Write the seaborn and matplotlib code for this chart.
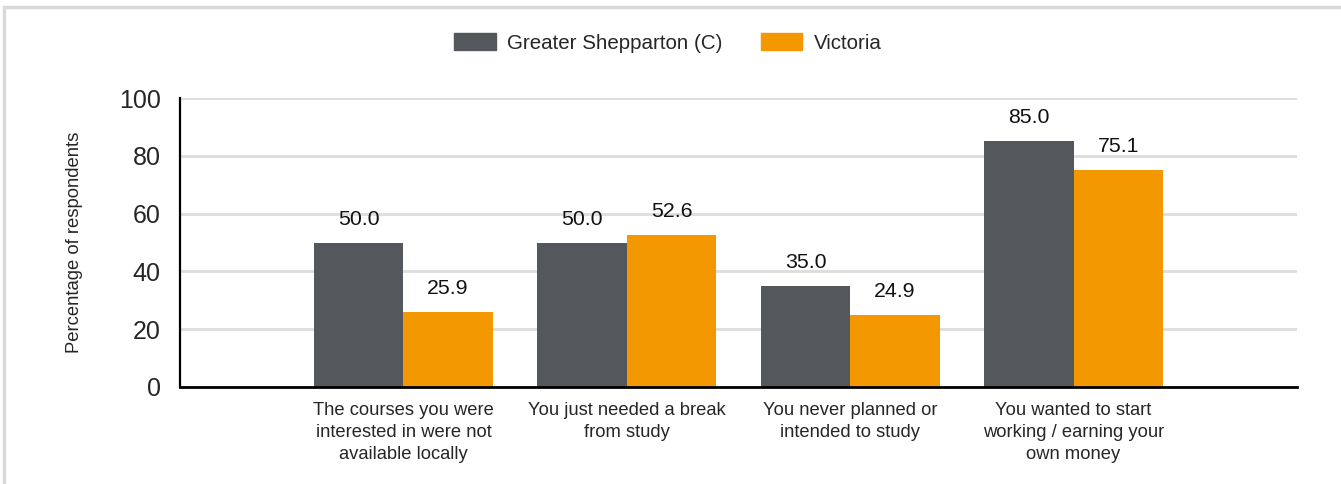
import matplotlib
matplotlib.use("Agg")
import matplotlib.pyplot as plt
import pandas as pd
import seaborn as sns
from matplotlib.patches import Rectangle

# Data
categories = [
    "The courses you were\ninterested in were not\navailable locally",
    "You just needed a break\nfrom study",
    "You never planned or\nintended to study",
    "You wanted to start\nworking / earning your\nown money",
]
series_names = ["Greater Shepparton (C)", "Victoria"]
shepparton = [50.0, 50.0, 35.0, 85.0]
victoria = [25.9, 52.6, 24.9, 75.1]
y_ticks = [0, 20, 40, 60, 80, 100]

colors = ["#54575b", "#f39800"]

df = pd.DataFrame({
    "category": categories * 2,
    "series": [series_names[0]] * len(categories) + [series_names[1]] * len(categories),
    "value": shepparton + victoria,
})

sns.set_style("white")
plt.rcParams["font.family"] = ["Liberation Sans", "DejaVu Sans"]

fig = plt.figure(figsize=(13.41, 4.84), dpi=100)
ax = fig.add_axes([180 / 1341, 1 - 387 / 484, 1117 / 1341, 289 / 484])

sns.barplot(data=df, x="category", y="value", hue="series", order=categories,
            hue_order=series_names, palette=colors, width=0.8, ax=ax,
            legend=False, saturation=1, linewidth=0)

for cont in ax.containers:
    ax.bar_label(cont, fmt="%.1f", padding=10, fontsize=15.3, color="#111111")

# axes styling
ax.set_xlim(-1, 4)
ax.set_ylim(0, 100)
ax.set_yticks(y_ticks)
ax.set_yticklabels([str(t) for t in y_ticks], fontsize=18)
ax.set_xticks([-1, 0, 1, 2, 3, 4])
ax.set_xticklabels([""] + categories + [""], fontsize=13.2)
for lbl in ax.get_xticklabels():
    lbl.set_linespacing(1.38)
ax.tick_params(axis="x", length=4, width=1, color="#555555", pad=7)
ax.tick_params(axis="y", length=10, width=1, color="#777777", pad=4)
ax.yaxis.grid(True, color="#dddddd", linewidth=2)
ax.set_axisbelow(True)
for side in ["top", "right"]:
    ax.spines[side].set_visible(False)
ax.spines["left"].set_color("black")
ax.spines["left"].set_linewidth(1.6)
ax.spines["bottom"].set_color("black")
ax.spines["bottom"].set_linewidth(2)
ax.set_xlabel("")
ax.set_ylabel("Percentage of respondents", fontsize=13.3)
ax.yaxis.set_label_coords(-97 / 1117, 0.5)

# legend
handles = [Rectangle((0, 0), 1, 1, color=c) for c in colors]
fig.legend(handles, series_names, loc="center", bbox_to_anchor=(668 / 1341, 1 - 43 / 484),
           ncol=2, frameon=False, fontsize=14.8, handlelength=2.0, handleheight=0.9,
           handletextpad=0.55, columnspacing=1.9)

# outer light frame
fig.patches.append(Rectangle((4 / 1341, -0.1), 1.2, 1 - 7 / 484 + 0.1, transform=fig.transFigure,
                             fill=False, edgecolor="#d9d9d9", linewidth=2.5))

fig.savefig("out.png", dpi=100)
